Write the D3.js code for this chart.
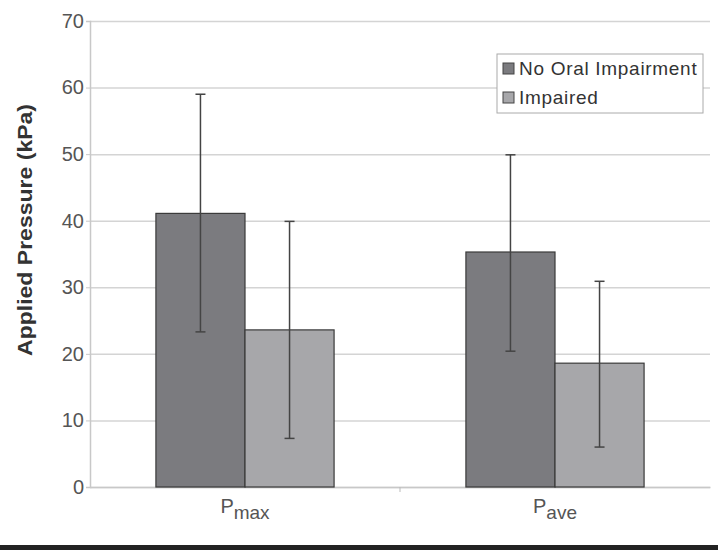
<!DOCTYPE html>
<html>
<head>
<meta charset="utf-8">
<script src="https://cdn.jsdelivr.net/npm/d3@7"></script>
<style>
  body { margin: 0; background: #fff; }
  text { font-family: "Liberation Sans", Arial, sans-serif; }
</style>
</head>
<body>
<div id="chart"></div>
<script>
// data
const categories = ["max", "ave"];
const seriesNames = ["No Oral Impairment", "Impaired"];
const noImpairment = [41.1, 35.3];
const impaired = [23.6, 18.6];
const noImpairmentLow = [23.3, 20.4];
const noImpairmentHigh = [59.0, 49.9];
const impairedLow = [7.3, 6.0];
const impairedHigh = [39.9, 30.9];
const yTicks = [0, 10, 20, 30, 40, 50, 60, 70];

const width = 718;
const height = 550;

const marginLeft = 90;
const marginRight = 8;
const marginTop = 21;
const chartBottom = 487;

const colors = ["#7b7b7f", "#a7a7aa"];

const svg = d3.select("#chart").append("svg")
  .attr("width", width)
  .attr("height", height);

const x = d3.scaleBand()
  .domain(categories)
  .range([marginLeft, width - marginRight]);

const xInner = d3.scaleBand()
  .domain([0, 1])
  .range([0, x.bandwidth()])
  .paddingOuter(0.74)
  .paddingInner(0);

const y = d3.scaleLinear()
  .domain([0, 70])
  .range([chartBottom, marginTop]);

// grid lines
svg.append("g")
  .attr("transform", `translate(${marginLeft},0)`)
  .call(d3.axisLeft(y).tickValues(yTicks).tickSize(-(width - marginRight - marginLeft)).tickFormat(""))
  .call(g => g.select(".domain").remove())
  .call(g => g.selectAll("line").attr("stroke", "#d4d4d4").attr("stroke-width", 1.5));

// y axis
const yAxis = svg.append("g")
  .attr("transform", `translate(${marginLeft},0)`)
  .call(d3.axisLeft(y).tickValues(yTicks).tickSize(4).tickPadding(2));
yAxis.select(".domain").attr("stroke", "#c8c8c8").attr("stroke-width", 1.5);
yAxis.selectAll(".tick line").attr("stroke", "#c8c8c8");
yAxis.selectAll(".tick text")
  .attr("fill", "#555")
  .style("font-size", "20px")
  .style("font-family", "Liberation Sans, Arial, sans-serif");

// x axis
const xAxis = svg.append("g")
  .attr("transform", `translate(0,${chartBottom})`)
  .call(d3.axisBottom(x).tickSize(0).tickFormat(""));
xAxis.select(".domain").attr("stroke", "#c8c8c8").attr("stroke-width", 1.5);

// category separator tick
svg.append("line")
  .attr("x1", x("ave")).attr("x2", x("ave"))
  .attr("y1", chartBottom).attr("y2", chartBottom + 5)
  .attr("stroke", "#bbb");

// category labels P with subscript
const catLabel = svg.append("g").selectAll("text")
  .data(categories)
  .join("text")
  .attr("x", d => x(d) + x.bandwidth() / 2)
  .attr("y", 513)
  .attr("text-anchor", "middle")
  .attr("fill", "#555")
  .style("font-size", "20px");
catLabel.append("tspan").text("P");
catLabel.append("tspan")
  .attr("dy", 6)
  .style("font-size", "19px")
  .text(d => d);

// bars
const seriesVals = [noImpairment, impaired];
const lows = [noImpairmentLow, impairedLow];
const highs = [noImpairmentHigh, impairedHigh];

const barData = [];
categories.forEach((c, i) => {
  [0, 1].forEach(s => {
    barData.push({ cat: c, s: s, v: seriesVals[s][i], lo: lows[s][i], hi: highs[s][i] });
  });
});

svg.append("g").selectAll("rect")
  .data(barData)
  .join("rect")
  .attr("x", d => x(d.cat) + xInner(d.s))
  .attr("y", d => y(d.v))
  .attr("width", xInner.bandwidth())
  .attr("height", d => y(0) - y(d.v))
  .attr("fill", d => colors[d.s])
  .attr("stroke", "#3a3a3a")
  .attr("stroke-width", 1.2);

// error bars
const err = svg.append("g").selectAll("g")
  .data(barData)
  .join("g")
  .attr("transform", d => `translate(${x(d.cat) + xInner(d.s) + xInner.bandwidth() / 2},0)`);
err.append("line")
  .attr("y1", d => y(d.lo))
  .attr("y2", d => y(d.hi))
  .attr("stroke", "#444")
  .attr("stroke-width", 1.5);
err.append("line")
  .attr("x1", -5).attr("x2", 5)
  .attr("y1", d => y(d.hi)).attr("y2", d => y(d.hi))
  .attr("stroke", "#444").attr("stroke-width", 1.5);
err.append("line")
  .attr("x1", -5).attr("x2", 5)
  .attr("y1", d => y(d.lo)).attr("y2", d => y(d.lo))
  .attr("stroke", "#444").attr("stroke-width", 1.5);

// y axis title
svg.append("text")
  .attr("transform", `translate(32,230) rotate(-90)`)
  .attr("text-anchor", "middle")
  .attr("fill", "#333")
  .attr("textLength", 252)
  .attr("lengthAdjust", "spacingAndGlyphs")
  .style("font-size", "20px")
  .style("font-weight", "bold")
  .text("Applied Pressure (kPa)");

// legend
const legend = svg.append("g").attr("transform", "translate(497,54)");
legend.append("rect")
  .attr("width", 206).attr("height", 59)
  .attr("fill", "#fff")
  .attr("stroke", "#aaa");
const items = legend.selectAll(".legend")
  .data(seriesNames)
  .join("g")
  .attr("class", "legend")
  .attr("transform", (d, i) => `translate(6,${9 + i * 29})`);
items.append("rect")
  .attr("width", 11).attr("height", 11)
  .attr("fill", (d, i) => colors[i])
  .attr("stroke", "#444");
items.append("text")
  .attr("x", 16)
  .attr("y", 5)
  .attr("dy", ".38em")
  .attr("fill", "#333")
  .style("font-size", "19px")
  .style("letter-spacing", "0.7px")
  .text(d => d);

// black rule at bottom
svg.append("rect")
  .attr("x", 0).attr("y", 545)
  .attr("width", width).attr("height", 5)
  .attr("fill", "#222");
</script>
</body>
</html>
